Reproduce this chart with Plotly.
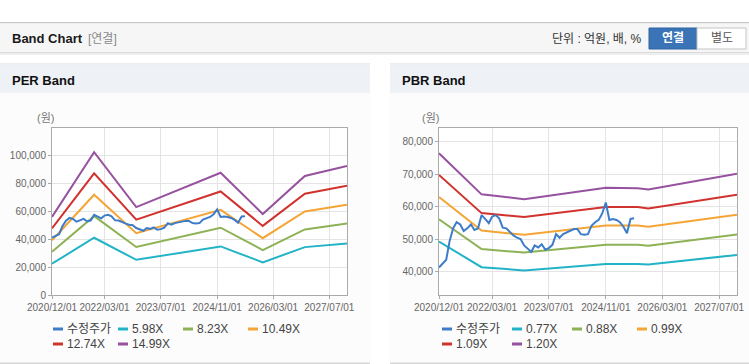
import plotly.graph_objects as go
import pandas as pd

# ---------------- data ----------------
price_start = "2020-12-01"
price_values = [41200, 42300, 43600, 49200, 53300, 55200, 54500, 52500, 53300, 54500,
                52800, 53300, 57400, 56200, 54900, 56900, 57400, 56400, 53500, 53300,
                52100, 51100, 50400, 50000, 48000, 47000, 46000, 48000, 47400, 48400,
                46700, 47200, 48200, 51500, 50400, 51500, 52100, 52500, 53100, 53100,
                51500, 51300, 51500, 54100, 55200, 55900, 57900, 61300, 55900, 56200,
                55900, 55200, 53800, 51800, 56200, 56400]
price_dates = pd.date_range(price_start, periods=len(price_values), freq="MS")

per_dates = ["2020-12-01", "2021-12-01", "2022-12-01", "2024-12-01",
             "2025-12-01", "2026-12-01", "2027-12-01"]
per_598 = [22400, 41000, 25200, 34800, 23400, 34300, 36900]
per_823 = [31000, 56500, 34400, 48200, 32200, 47000, 51200]
per_1049 = [39200, 71800, 44300, 61000, 40700, 59800, 64600]
per_1274 = [47800, 87200, 54000, 74200, 49500, 72600, 78300]
per_1499 = [56000, 102300, 63000, 87600, 58000, 85300, 92400]

pbr_dates = ["2020-12-01", "2021-12-01", "2022-12-01", "2024-11-01",
             "2025-08-01", "2025-11-01", "2027-12-01"]
pbr_077 = [49200, 41300, 40300, 42300, 42300, 42100, 45100]
pbr_088 = [56100, 46900, 45800, 48200, 48200, 47900, 51400]
pbr_099 = [63000, 52600, 51300, 54200, 54200, 53800, 57500]
pbr_109 = [69800, 58000, 56800, 59900, 59900, 59400, 63700]
pbr_120 = [76500, 63800, 62300, 65800, 65700, 65300, 70200]

x_tick_vals = ["2020-12-01", "2022-03-01", "2023-07-01", "2024-11-01", "2026-03-01", "2027-07-01"]
x_tick_text = ["2020/12/01", "2022/03/01", "2023/07/01", "2024/11/01", "2026/03/01", "2027/07/01"]
per_y_ticks = [0, 20000, 40000, 60000, 80000, 100000]
pbr_y_ticks = [40000, 50000, 60000, 70000, 80000]

per_names = ["수정주가", "5.98X", "8.23X", "10.49X", "12.74X", "14.99X"]
pbr_names = ["수정주가", "0.77X", "0.88X", "0.99X", "1.09X", "1.20X"]
colors = ["#3d7cc9", "#22b3c6", "#8db255", "#f4a535", "#d2322d", "#97529f"]

# ---------------- figure ----------------
W, H = 749, 364
def px(x): return x / W
def py(y): return 1 - y / H

fig = go.Figure()

per_series = [per_598, per_823, per_1049, per_1274, per_1499]
pbr_series = [pbr_077, pbr_088, pbr_099, pbr_109, pbr_120]

for i, s in enumerate(per_series):
    fig.add_trace(go.Scatter(x=per_dates, y=s, mode="lines", name=per_names[i + 1],
                             line=dict(color=colors[i + 1], width=2), xaxis="x", yaxis="y"))
fig.add_trace(go.Scatter(x=price_dates, y=price_values, mode="lines", name=per_names[0],
                         line=dict(color=colors[0], width=2), xaxis="x", yaxis="y"))
for i, s in enumerate(pbr_series):
    fig.add_trace(go.Scatter(x=pbr_dates, y=s, mode="lines", name=pbr_names[i + 1],
                             line=dict(color=colors[i + 1], width=2), xaxis="x2", yaxis="y2"))
fig.add_trace(go.Scatter(x=price_dates, y=price_values, mode="lines", name=pbr_names[0],
                         line=dict(color=colors[0], width=2), xaxis="x2", yaxis="y2"))

tickfont = dict(family="Liberation Sans, Noto Sans CJK KR", size=10, color="#666")
xcommon = dict(type="date", range=["2020-12-01", "2027-12-01"], tickvals=x_tick_vals,
               ticktext=x_tick_text, tickangle=0, showgrid=True, gridcolor="#e4e4e4",
               gridwidth=1, showline=True, linecolor="#aaaaaa", linewidth=1, mirror=True,
               ticks="outside", ticklen=3, tickcolor="#aaaaaa", tickfont=tickfont,
               zeroline=False, fixedrange=True, automargin=False)
ycommon = dict(showgrid=True, gridcolor="#e4e4e4", gridwidth=1, showline=True,
               linecolor="#aaaaaa", linewidth=1, mirror=True, ticks="outside",
               ticklen=3, tickcolor="#aaaaaa", tickfont=tickfont, tickformat=",d",
               zeroline=False, fixedrange=True, automargin=False)

fig.update_layout(
    width=W, height=H, margin=dict(l=0, r=0, t=0, b=0, pad=0), autosize=False,
    paper_bgcolor="white", plot_bgcolor="white", showlegend=False,
    font=dict(family="Liberation Sans, Noto Sans CJK KR", size=11, color="#666"),
    xaxis=dict(domain=[px(52), px(347)], anchor="y", **xcommon),
    yaxis=dict(domain=[py(295), py(127.5)], anchor="x", range=[0, 120000],
               tickvals=per_y_ticks, **ycommon),
    xaxis2=dict(domain=[px(439), px(737)], anchor="y2", **xcommon),
    yaxis2=dict(domain=[py(295), py(128)], anchor="x2", range=[32700, 84300],
                tickvals=pbr_y_ticks, **ycommon),
)

shapes = []
def rect(x0, y0, x1, y1, fill, line=None):
    shapes.append(dict(type="rect", xref="paper", yref="paper", x0=px(x0), x1=px(x1),
                       y0=py(y1), y1=py(y0), fillcolor=fill, layer="below",
                       line=dict(width=1 if line else 0, color=line or fill)))

# header
rect(0, 22, 749, 23.5, "#c9c9c9")
rect(0, 23.5, 749, 52, "#f6f6f6")
rect(0, 52, 749, 53, "#dadada")
rect(0, 53, 749, 55, "#eeeeee")
# buttons
rect(649, 28, 697, 49, "#3a74b6", "#2f64a0")
rect(697, 28, 746, 49, "#ffffff", "#c4c4c4")
# panels
for (a, b) in [(0, 370), (390, 749)]:
    rect(a, 63.5, b, 64.5, "#dcdcdc")
    rect(a, 64.5, b, 93, "#eef1f6")
    rect(a, 93, b, 362.5, "#fcfcfc")
    rect(a, 362.5, b, 364, "#d6d6d6")
rect(52, 127.5, 347, 295, "#ffffff")
rect(439, 128, 737, 295, "#ffffff")

annotations = []
def text(x, y, s, size=12, color="#333", bold=False, anchor="left"):
    annotations.append(dict(xref="paper", yref="paper", x=px(x), y=py(y), text=s,
                            showarrow=False, xanchor=anchor, yanchor="middle",
                            font=dict(family="Liberation Sans, Noto Sans CJK KR", size=size,
                                      color=color, weight="bold" if bold else "normal")))

text(10, 39, "Band Chart", 13, "#1a1a1a", True)
text(86, 39, "[연결]", 12, "#8a8a8a")
text(644, 39, "단위 : 억원, 배, %", 12, "#333", anchor="right")
text(673, 38.5, "연결", 12, "#ffffff", True, "center")
text(721.5, 38.5, "별도", 12, "#555", False, "center")
text(10, 80, "PER Band", 13, "#111", True)
text(400, 80, "PBR Band", 13, "#111", True)
text(35, 118, "(원)", 11, "#777")
text(420, 118, "(원)", 11, "#777")

def legend(names, pos):
    for i, (x, y) in enumerate(pos):
        shapes.append(dict(type="line", xref="paper", yref="paper", x0=px(x), x1=px(x + 10),
                           y0=py(y), y1=py(y), line=dict(color=colors[i], width=3)))
        text(x + 12, y, names[i], 12, "#444")

legend(per_names, [(53, 329), (118, 329), (183, 329), (248, 329), (53, 344), (118, 344)])
legend(pbr_names, [(442, 329), (512, 329), (572, 329), (637, 329), (442, 344), (512, 344)])

fig.update_layout(shapes=shapes, annotations=annotations)
fig.write_html("out.html", config={"displayModeBar": False},
               post_script="document.body.style.margin='0';document.body.style.padding='0';"
                           "document.documentElement.style.overflow='hidden';")
